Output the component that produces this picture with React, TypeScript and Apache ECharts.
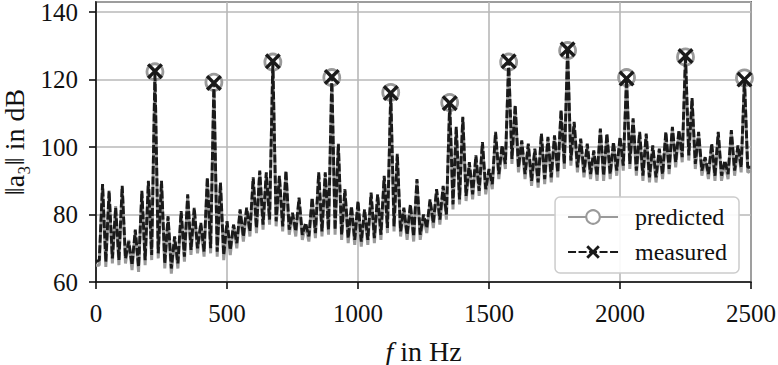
import React, { useEffect, useRef } from "react";
import * as echarts from "echarts";

// spike frequencies are multiples of 25 Hz (k = 1..99), floor points sit between spikes
const SPIKE_STEP_HZ = 25;
const F_MAX_HZ = 2500;

const HARMONICS_HZ = [225, 450, 675, 900, 1125, 1350, 1575, 1800, 2025, 2250, 2475];

// measured spectrum: spike tops at 25, 50, ..., 2475 Hz
const SPIKE_DB_MEAS = [
  89, 87, 82, 88.5, 72, 75.5, 87, 90, 122.5, 90,
  79.5, 73.5, 81, 86, 82, 77.5, 91, 119, 89.5, 78,
  77, 81.5, 82, 91, 93, 92.5, 125.4, 91.5, 93, 80.5,
  85, 77.5, 85, 92.5, 92.5, 120.8, 101, 87.5, 82.5, 84,
  81.5, 86.5, 86, 91.5, 116, 98, 82, 83, 90.5, 80,
  84.5, 87.5, 88.5, 113, 106, 109, 95.5, 97.5, 101.5, 93.5,
  104.5, 100.5, 125.4, 112.5, 102, 101, 99.5, 104, 103, 103.5,
  111, 129, 107.5, 102.5, 101, 99, 105.5, 104, 101.5, 103,
  120.3, 108.5, 104.5, 104, 100.5, 99.5, 104.5, 106, 105, 127,
  114.5, 104.5, 97, 101, 104.5, 96, 105, 100.5, 120,
];
// measured noise floor at 12.5, 37.5, ..., 2487.5 Hz
const FLOOR_DB_MEAS = [
  66.5, 66, 67, 66.5, 67, 65, 64.5, 66.5, 68, 68.5,
  65.5, 64, 65.5, 67.5, 69.5, 70, 69, 70, 69, 68,
  69.5, 71.5, 73.5, 75, 76, 77, 78.5, 78, 76.5, 75.5,
  75, 74, 73.5, 74.5, 75, 75.5, 75.5, 74, 73, 72.5,
  72, 72.5, 73, 74, 76, 76.5, 75, 74, 73.5, 74,
  76, 77.5, 78.5, 80, 83, 84.5, 85.5, 86, 87, 87.5,
  89, 92, 95, 96.5, 94, 92, 90, 89.5, 90.5, 91,
  92.5, 95, 96, 94, 92.5, 92, 91.5, 91.5, 92, 93,
  94.5, 95, 93, 91.5, 91, 91, 92, 93.5, 95.5, 97,
  97.5, 95, 93, 92, 91.5, 91.5, 92, 93, 94, 94,
];
const EDGE_DB_MEAS = [66, 94];

// predicted spectrum
const SPIKE_DB_PRED = [
  88.5, 86.5, 82.5, 88, 72.5, 75, 86.5, 89.5, 122.3, 89.5,
  79, 73, 80.5, 85.5, 81.5, 77, 90.5, 119.2, 89, 78,
  77, 81, 81.5, 90.5, 92.5, 92, 125.2, 91, 92.5, 80,
  84.5, 77, 84.5, 92, 92, 120.6, 100.5, 87, 82, 83.5,
  81, 86, 85.5, 91, 116.2, 97.5, 81.5, 82.5, 90, 79.5,
  84, 87, 88, 113.2, 105.5, 108.5, 95, 97, 101, 93,
  104, 100, 125.2, 112, 101.5, 100.5, 99, 103.5, 102.5, 103,
  110.5, 128.6, 107, 102, 100.5, 98.5, 105, 103.5, 101, 102.5,
  120.6, 108, 104, 103.5, 100, 99, 104, 105.5, 104.5, 126.7,
  114, 104, 96.5, 100.5, 104, 95.5, 104.5, 100, 120.5,
];
const FLOOR_DB_PRED = [
  65, 64.5, 65.5, 65, 65.5, 63.5, 63, 65, 66.5, 67,
  64, 62.5, 64, 66, 68, 68.5, 67.5, 68.5, 67.5, 66.5,
  68, 70, 72, 73.5, 74.5, 75.5, 77, 76.5, 75, 74,
  73.5, 72.5, 72, 73, 73.5, 74, 74, 72.5, 71.5, 71,
  70.5, 71, 71.5, 72.5, 74.5, 75, 73.5, 72.5, 72, 72.5,
  74.5, 76, 77, 78.5, 81.5, 83, 84, 84.5, 85.5, 86,
  87.5, 90.5, 93.5, 95, 92.5, 90.5, 88.5, 88, 89, 89.5,
  91, 93.5, 94.5, 92.5, 91, 90.5, 90, 90, 90.5, 91.5,
  93, 93.5, 91.5, 90, 89.5, 89.5, 90.5, 92, 94, 95.5,
  96, 93.5, 91.5, 90.5, 90, 90, 90.5, 91.5, 92.5, 92.5,
];
const EDGE_DB_PRED = [65, 93];

const X_TICKS = { min: 0, max: 2500, interval: 500 };
const Y_TICKS = { min: 60, max: 143, interval: 20 };

const SERIF = "Liberation Serif";
const X_PATH =
  "path://M3,0 L10,7 L17,0 L20,3 L13,10 L20,17 L17,20 L10,13 L3,20 L0,17 L7,10 L0,3 Z";

function build(spikes: number[], floor: number[], edges: number[]) {
  const pts: [number, number][] = [[0, edges[0]]];
  for (let k = 0; k < floor.length; k++) {
    if (k > 0) pts.push([k * SPIKE_STEP_HZ, spikes[k - 1]]);
    pts.push([k * SPIKE_STEP_HZ + SPIKE_STEP_HZ / 2, floor[k]]);
  }
  pts.push([F_MAX_HZ, edges[1]]);
  return pts.map(([f, v]) =>
    HARMONICS_HZ.includes(f) ? { value: [f, v] } : { value: [f, v], symbol: "none" }
  );
}

export default function App() {
  const ref = useRef<HTMLDivElement>(null);
  useEffect(() => {
    if (!ref.current) return;
    const chart = echarts.init(ref.current, null, { renderer: "svg" });
    chart.setOption({
      animation: false,
      grid: {
        left: 96,
        right: 27,
        top: 2,
        bottom: 83,
        containLabel: false,
        outerBoundsMode: "none",
        show: true,
        borderColor: "#111",
        borderWidth: 1.6,
        backgroundColor: "transparent",
      },
      legend: {
        data: ["predicted", "measured"],
        orient: "vertical",
        right: 39,
        top: 197,
        padding: [8, 12, 9, 12],
        itemGap: 11,
        itemWidth: 50,
        itemHeight: 17,
        backgroundColor: "rgba(255,255,255,0.9)",
        borderColor: "#cccccc",
        borderWidth: 1.5,
        borderRadius: 5,
        textStyle: {
          fontFamily: SERIF,
          fontSize: 24,
          color: "#111",
          padding: [0, 0, 0, 12],
        },
      },
      xAxis: {
        type: "value",
        min: X_TICKS.min,
        max: X_TICKS.max,
        interval: X_TICKS.interval,
        name: "{i|f} in Hz",
        nameLocation: "middle",
        nameGap: 54,
        nameTextStyle: {
          fontFamily: SERIF,
          fontSize: 28,
          lineHeight: 30,
          color: "#111",
          rich: {
            i: { fontFamily: SERIF, fontSize: 28, lineHeight: 30, fontStyle: "italic", color: "#111" },
          },
        },
        axisLine: { show: true, lineStyle: { color: "#111", width: 1.6 } },
        axisTick: { show: true, length: 7, lineStyle: { color: "#111", width: 1.6 } },
        axisLabel: {
          fontFamily: SERIF,
          fontSize: 25,
          color: "#111",
          margin: 19,
          formatter: (v: number) => String(v),
        },
        splitLine: { show: true, lineStyle: { color: "#b8b8b8", width: 1.6 } },
      },
      yAxis: {
        type: "value",
        min: Y_TICKS.min,
        max: Y_TICKS.max,
        interval: Y_TICKS.interval,
        name: "‖a₃‖ in dB",
        nameLocation: "middle",
        nameGap: 56,
        nameTextStyle: { fontFamily: SERIF, fontSize: 28, lineHeight: 30, color: "#111" },
        axisLine: { show: true, lineStyle: { color: "#111", width: 1.6 } },
        axisTick: { show: true, length: 7, lineStyle: { color: "#111", width: 1.6 } },
        axisLabel: {
          fontFamily: SERIF,
          fontSize: 25,
          color: "#111",
          margin: 18,
          formatter: (v: number) => String(v),
        },
        splitLine: { show: true, lineStyle: { color: "#b8b8b8", width: 1.6 } },
      },
      series: [
        {
          name: "predicted",
          type: "line",
          data: build(SPIKE_DB_PRED, FLOOR_DB_PRED, EDGE_DB_PRED),
          symbol: "circle",
          symbolSize: 16,
          showSymbol: true,
          lineStyle: { color: "#9a9a9a", width: 3 },
          itemStyle: { color: "#ffffff", borderColor: "#9a9a9a", borderWidth: 2.8 },
          emphasis: { disabled: true },
          silent: true,
          z: 2,
        },
        {
          name: "measured",
          type: "line",
          data: build(SPIKE_DB_MEAS, FLOOR_DB_MEAS, EDGE_DB_MEAS),
          symbol: X_PATH,
          symbolSize: 16,
          showSymbol: true,
          lineStyle: { color: "#1a1a1a", width: 2.9, type: [8, 2.5] },
          itemStyle: { color: "#1a1a1a", borderWidth: 0 },
          emphasis: { disabled: true },
          silent: true,
          z: 3,
        },
      ],
    });
    return () => chart.dispose();
  }, []);
  return (
    <div
      ref={ref}
      style={{ position: "absolute", left: 0, top: 0, width: 778, height: 365 }}
    />
  );
}
